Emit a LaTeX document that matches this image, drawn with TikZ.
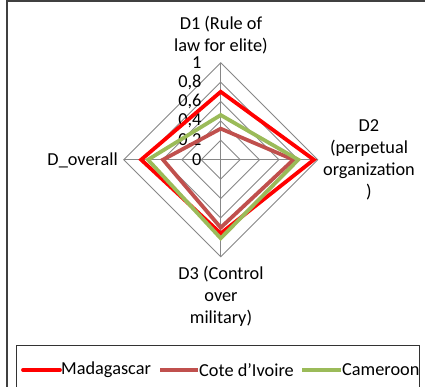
\documentclass[tikz,border=0pt]{standalone}
\usepackage{fontspec}
\setmainfont{Carlito}
\usetikzlibrary{calc}
\begin{document}
\begin{tikzpicture}[x=1pt,y=-1pt,
  grid/.style={draw=black!47,line width=0.9pt},
  series/.style={line width=3.8pt,line join=miter},
  madag/.style={series,draw={rgb,255:red,255;green,0;blue,0}},
  ivoire/.style={series,draw={rgb,255:red,192;green,80;blue,77}},
  camer/.style={series,draw={rgb,255:red,155;green,187;blue,89}},
  lbl/.style={font=\fontsize{18.3}{21.8}\selectfont,align=center,inner sep=0pt},
  tick/.style={font=\fontsize{18.3}{18}\selectfont,anchor=east,inner sep=0pt},
  frame/.style={draw=black!75,line width=2pt},
  legframe/.style={draw=black!80,line width=1pt}]
\useasboundingbox (0,0) rectangle (425,387);
\clip (0,0) rectangle (425,387);
% outer chart frame
\draw[frame] (7,1) rectangle (440,400);
% radar centre and radius
\coordinate (O) at (220.7,159.7);
\def\R{97}
% grid rings
\foreach \v in {0.2,0.4,0.6,0.8,1.0}{
  \draw[grid] ($(O)+(0,-\v*\R)$) -- ($(O)+(\v*\R,0)$) -- ($(O)+(0,\v*\R)$) -- ($(O)+(-\v*\R,0)$) -- cycle;
}
% spokes
\coordinate (A1) at ($(O)+(0,-\R)$);
\coordinate (A2) at ($(O)+(\R,0)$);
\coordinate (A3) at ($(O)+(0,\R)$);
\coordinate (A4) at ($(O)+(-\R,0)$);
\draw[grid] (O) -- (A1) (O) -- (A2) (O) -- (A3) (O) -- (A4);
% tick labels
\foreach \v/\t in {0/0,0.2/{0,2},0.4/{0,4},0.6/{0,6},0.8/{0,8},1/1}{
  \node[tick] at ($(O)+(-19,-\v*\R)$) {\t};
}
% series
\newcommand\radarpoly[5]{%
  \draw[#1] ($(O)+(0,-#2*\R)$) -- ($(O)+(#3*\R,0)$) -- ($(O)+(0,#4*\R)$) -- ($(O)+(-#5*\R,0)$) -- cycle;}
\radarpoly{madag}{0.70}{0.96}{0.76}{0.82}
\radarpoly{ivoire}{0.32}{0.75}{0.70}{0.595}
\radarpoly{camer}{0.46}{0.80}{0.81}{0.75}
% axis labels
\node[lbl] (d1) at (221,35) {D1 (Rule of\\law for elite)};
\node[lbl] (d2) at (369,160) {D2\\(perpetual\\organization\\)};
\node[lbl] (d3) at (221,296) {D3 (Control\\over\\military)};
\node[lbl,anchor=east] (dov) at (118,160) {D\_overall};
% legend
\draw[legframe] (16.7,345) rectangle (419.5,400);
\coordinate (l1a) at (23,370); \coordinate (l1b) at (60,370);
\coordinate (l2a) at (160,370); \coordinate (l2b) at (198,370);
\coordinate (l3a) at (302,370); \coordinate (l3b) at (341,370);
\draw[madag,line cap=round] (l1a) -- (l1b);
\draw[ivoire] (l2a) -- (l2b);
\draw[camer] (l3a) -- (l3b);
\node[lbl,anchor=west] (t1) at (61,370) {Madagascar};
\node[lbl,anchor=west] (t2) at (199,370) {Cote d\char"27 Ivoire};
\node[lbl,anchor=west] (t3) at (342,370) {Cameroon};
\end{tikzpicture}
\end{document}
